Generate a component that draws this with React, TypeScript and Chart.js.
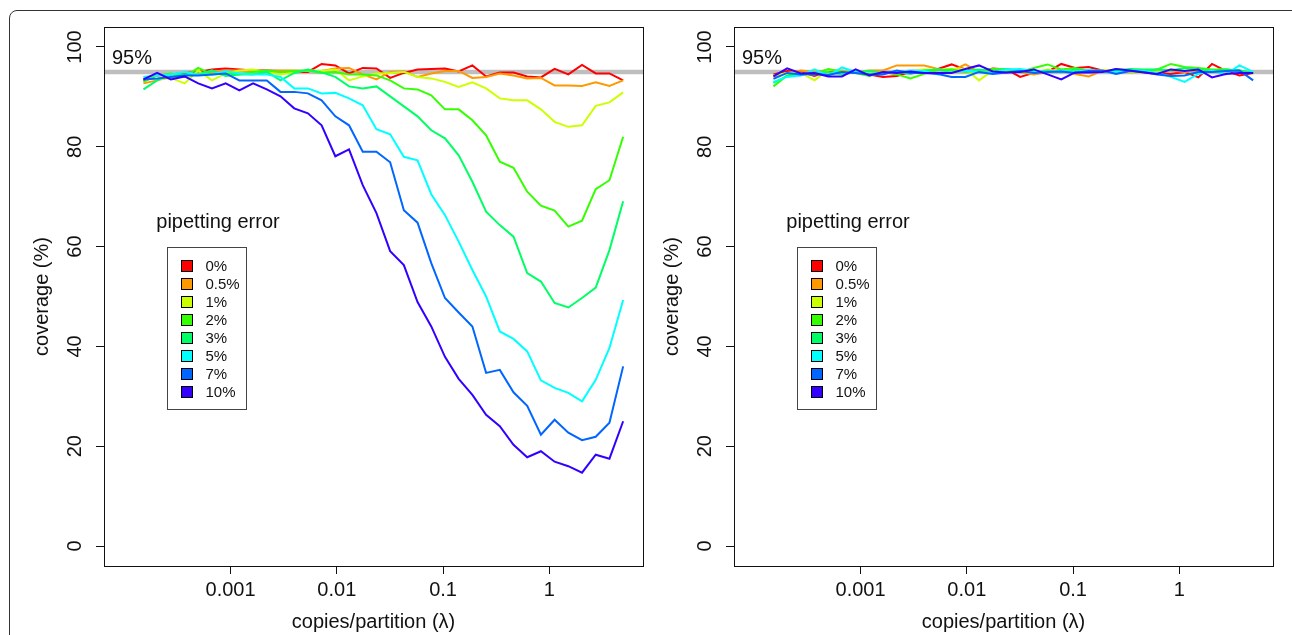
import React, { useEffect, useRef } from "react";
import { Chart, registerables } from "chart.js";
Chart.register(...registerables);

const FONT = '"Liberation Sans", Arial, Helvetica, sans-serif';
const TEXT = "#111";

// copies/partition (lambda)
const lambda = [
  0.0001514, 0.0002038, 0.0002742, 0.0003691, 0.0004967, 0.0006685, 0.0008997, 0.0012109,
  0.0016298, 0.0021935, 0.002952, 0.003973, 0.005348, 0.007197, 0.009685, 0.013035,
  0.017544, 0.023612, 0.03178, 0.04277, 0.05756, 0.07747, 0.10426, 0.14033,
  0.18887, 0.25419, 0.3421, 0.4604, 0.6197, 0.8339, 1.1223, 1.5105,
  2.033, 2.736, 3.683, 4.956,
];

const seriesLabels = ["0%", "0.5%", "1%", "2%", "3%", "5%", "7%", "10%"];
const seriesColors = ["#FF0000", "#FF9900", "#CCFF00", "#33FF00", "#00FF66", "#00FFFF", "#0066FF", "#3300FF"];

// Left panel coverage (%)
const left0 = [93.3, 94.3, 94.5, 94.8, 95.0, 95.5, 95.7, 95.5, 95.3, 95.3, 95.2, 95.0, 95.0, 96.6, 96.3, 94.7, 95.8, 95.7, 93.8, 94.8, 95.5, 95.6, 95.7, 95.1, 96.3, 94.1, 94.9, 94.9, 94.1, 93.9, 95.6, 94.5, 96.4, 94.7, 94.7, 93.3];
const left05 = [92.7, 93.3, 94.0, 94.3, 94.8, 95.0, 95.3, 95.3, 95.2, 95.2, 95.3, 95.3, 95.2, 95.2, 95.7, 95.8, 94.5, 93.5, 95.0, 95.1, 94.0, 94.7, 95.2, 95.2, 93.8, 94.0, 94.7, 94.3, 93.7, 93.8, 92.3, 92.3, 92.2, 92.9, 92.2, 93.3];
const left1 = [94.0, 93.5, 93.8, 92.7, 95.3, 93.3, 94.7, 95.3, 95.5, 95.0, 94.5, 95.0, 95.3, 95.2, 95.5, 93.3, 94.1, 94.7, 94.8, 95.0, 94.0, 93.7, 93.0, 92.0, 92.9, 91.7, 89.7, 89.3, 89.3, 87.5, 85.0, 84.0, 84.3, 88.2, 88.9, 90.9];
const left2 = [93.0, 94.3, 94.7, 94.0, 95.8, 94.5, 94.7, 94.5, 95.0, 95.3, 95.0, 95.2, 95.3, 94.8, 95.0, 94.5, 94.5, 94.3, 93.3, 91.7, 91.5, 90.3, 87.5, 87.5, 85.3, 82.3, 77.0, 75.8, 71.0, 68.2, 67.2, 64.0, 65.2, 71.5, 73.3, 82.0];
const left3 = [91.5, 93.3, 94.5, 94.5, 94.5, 95.3, 94.2, 94.5, 94.5, 95.0, 93.3, 94.8, 95.5, 94.9, 94.0, 92.1, 91.7, 92.1, 90.1, 88.1, 86.1, 83.3, 81.7, 78.3, 73.0, 67.0, 64.3, 62.0, 54.7, 53.0, 48.7, 47.8, 49.7, 51.8, 59.3, 69.1];
const left5 = [94.0, 94.3, 94.5, 95.0, 94.5, 94.5, 95.2, 94.7, 94.5, 94.5, 94.0, 91.7, 91.7, 90.7, 90.8, 89.7, 88.3, 83.5, 82.5, 78.0, 77.3, 70.5, 66.3, 61.0, 55.3, 50.0, 43.0, 41.5, 39.0, 33.2, 31.7, 30.7, 29.0, 33.3, 39.7, 49.3];
const left7 = [93.5, 93.7, 94.0, 94.3, 94.3, 94.5, 94.7, 93.3, 93.3, 93.3, 91.0, 91.0, 90.7, 89.3, 86.1, 84.3, 79.0, 79.0, 76.9, 67.3, 64.8, 56.7, 49.7, 46.8, 44.0, 34.7, 35.3, 30.8, 28.1, 22.3, 25.3, 22.7, 21.2, 21.9, 24.7, 36.0];
const left10 = [93.5, 94.8, 93.5, 94.1, 92.7, 91.7, 92.7, 91.3, 92.7, 91.5, 90.1, 87.7, 86.7, 84.3, 78.1, 79.5, 72.3, 66.7, 59.1, 56.3, 48.9, 44.0, 37.9, 33.5, 30.3, 26.3, 24.0, 20.3, 17.8, 19.0, 16.9, 16.0, 14.7, 18.3, 17.5, 25.0];

// Right panel coverage (%)
const right0 = [94.5, 95.2, 95.0, 94.2, 95.2, 95.0, 95.0, 94.5, 94.0, 94.2, 95.0, 95.0, 95.6, 96.5, 95.5, 95.0, 95.7, 95.5, 94.0, 94.8, 95.0, 96.6, 95.8, 96.0, 95.3, 95.0, 95.0, 95.2, 94.8, 94.6, 95.0, 93.9, 96.6, 95.2, 94.3, 94.8];
const right05 = [94.0, 94.8, 95.3, 95.0, 95.4, 95.3, 95.0, 95.3, 95.3, 96.3, 96.3, 96.3, 95.6, 95.2, 96.5, 95.0, 95.2, 95.4, 95.0, 94.5, 95.0, 95.5, 94.6, 94.1, 95.2, 95.3, 95.2, 95.3, 95.5, 95.3, 95.0, 95.2, 95.0, 95.4, 95.3, 94.8];
const right1 = [94.3, 94.8, 94.8, 93.3, 95.5, 95.0, 95.2, 95.0, 94.8, 95.0, 95.2, 95.5, 95.4, 95.6, 95.7, 93.3, 95.3, 95.2, 95.0, 94.9, 95.5, 95.0, 95.3, 95.0, 95.4, 95.2, 95.0, 94.8, 95.3, 95.5, 95.2, 95.5, 95.3, 95.6, 95.0, 94.7];
const right2 = [92.1, 94.3, 94.7, 94.5, 95.6, 95.0, 94.8, 94.2, 95.0, 94.5, 93.7, 94.6, 95.4, 95.5, 95.0, 95.3, 95.6, 95.6, 95.0, 95.8, 96.5, 95.5, 95.8, 95.2, 95.0, 95.6, 95.3, 95.0, 95.5, 96.6, 96.0, 95.8, 95.5, 95.5, 95.2, 94.8];
const right3 = [92.8, 94.2, 94.5, 94.8, 95.0, 94.5, 95.0, 95.2, 94.8, 95.0, 94.6, 95.3, 95.5, 95.0, 95.2, 95.5, 95.2, 95.6, 95.3, 95.0, 95.3, 95.0, 95.5, 95.2, 95.0, 95.3, 95.6, 95.5, 95.5, 95.3, 95.8, 95.5, 95.2, 95.5, 95.3, 94.8];
const right5 = [93.0, 94.0, 94.3, 95.5, 94.2, 95.9, 95.0, 94.6, 94.8, 95.0, 95.3, 95.2, 94.5, 95.0, 95.3, 95.0, 94.8, 95.5, 95.6, 95.2, 95.0, 95.3, 95.0, 95.4, 95.2, 95.0, 95.3, 95.2, 94.8, 94.0, 93.0, 94.6, 95.3, 94.5, 96.3, 95.0];
const right7 = [93.6, 94.8, 94.5, 94.6, 94.4, 95.0, 94.8, 94.5, 94.5, 95.3, 94.8, 94.8, 94.6, 94.0, 94.0, 95.0, 94.6, 94.9, 95.2, 94.8, 95.0, 95.1, 94.8, 95.2, 95.3, 94.6, 95.2, 95.0, 94.5, 94.2, 94.3, 95.0, 95.0, 95.2, 95.3, 93.3];
const right10 = [94.1, 95.7, 94.7, 94.8, 94.1, 94.1, 95.5, 94.3, 95.0, 94.8, 95.1, 94.8, 94.8, 94.8, 95.6, 96.3, 95.1, 94.9, 95.0, 95.5, 94.5, 93.5, 94.9, 94.9, 95.0, 95.6, 95.3, 94.9, 94.6, 95.5, 95.2, 95.5, 93.9, 94.6, 94.8, 94.8];

const leftSeries = [left0, left05, left1, left2, left3, left5, left7, left10];
const rightSeries = [right0, right05, right1, right2, right3, right5, right7, right10];

const xTickValues = [0.001, 0.01, 0.1, 1];
const xTickLabels = ["0.001", "0.01", "0.1", "1"];
const yTickValues = [0, 20, 40, 60, 80, 100];
const xMin = 0.0000644;
const xMax = 7.62;
const yMin = -4;
const yMax = 104;
const targetCoverage = 95;
const targetLabel = "95%";
const legendTitle = "pipetting error";
const xTitle = "copies/partition (\u03bb)";
const yTitle = "coverage (%)";

const refLinePlugin = {
  id: "refLine",
  beforeDatasetsDraw(chart: any) {
    const { ctx, chartArea, scales } = chart;
    const y = scales.y.getPixelForValue(targetCoverage);
    ctx.save();
    ctx.beginPath();
    ctx.rect(chartArea.left, chartArea.top, chartArea.right - chartArea.left, chartArea.bottom - chartArea.top);
    ctx.clip();
    ctx.strokeStyle = "#BEBEBE";
    ctx.lineWidth = 4.5;
    ctx.beginPath();
    ctx.moveTo(chartArea.left, y);
    ctx.lineTo(chartArea.right, y);
    ctx.stroke();
    ctx.restore();
    ctx.save();
    ctx.fillStyle = TEXT;
    ctx.font = `20px ${FONT}`;
    ctx.textAlign = "left";
    ctx.textBaseline = "alphabetic";
    ctx.fillText(targetLabel, chartArea.left + 8, y - 8);
    ctx.restore();
  },
};

const boxPlugin = {
  id: "plotBox",
  afterDraw(chart: any) {
    const { ctx, chartArea } = chart;
    ctx.save();
    ctx.strokeStyle = "#111";
    ctx.lineWidth = 1;
    ctx.strokeRect(
      Math.round(chartArea.left) + 0.5,
      Math.round(chartArea.top) + 0.5,
      Math.round(chartArea.right - chartArea.left),
      Math.round(chartArea.bottom - chartArea.top)
    );
    ctx.restore();
  },
};

const legendPlugin = {
  id: "pipLegend",
  afterDraw(chart: any) {
    const { ctx, chartArea } = chart;
    const bx = Math.round(chartArea.left + 62.5) + 0.5;
    const by = Math.round(chartArea.top + 219.5) + 0.5;
    const bw = 79;
    const bh = 162;
    ctx.save();
    ctx.fillStyle = TEXT;
    ctx.font = `20px ${FONT}`;
    ctx.textAlign = "center";
    ctx.textBaseline = "middle";
    ctx.fillText(legendTitle, chartArea.left + 114, chartArea.top + 195);
    ctx.strokeStyle = "#444";
    ctx.lineWidth = 1;
    ctx.strokeRect(bx, by, bw, bh);
    chart.data.datasets.forEach((ds: any, k: number) => {
      const cy = by + 18.3 + 18 * k;
      const sx = Math.round(bx + 13.5) + 0.5;
      const sy = Math.round(cy - 5.5) + 0.5;
      ctx.fillStyle = ds.borderColor;
      ctx.fillRect(sx, sy, 11, 11);
      ctx.strokeStyle = "#000";
      ctx.strokeRect(sx, sy, 11, 11);
      ctx.fillStyle = TEXT;
      ctx.font = `15px ${FONT}`;
      ctx.textAlign = "left";
      ctx.textBaseline = "middle";
      ctx.fillText(ds.label, bx + 38, cy + 1);
    });
    ctx.restore();
  },
};

function buildConfig(series: number[][]): any {
  return {
    type: "line",
    data: {
      datasets: series.map((vals, k) => ({
        label: seriesLabels[k],
        data: lambda.map((x, i) => ({ x, y: vals[i] })),
        borderColor: seriesColors[k],
        backgroundColor: seriesColors[k],
        borderWidth: 2,
        pointRadius: 0,
        tension: 0,
        fill: false,
        order: series.length - 1 - k,
      })),
    },
    options: {
      responsive: false,
      animation: false,
      devicePixelRatio: 1,
      layout: { padding: { left: 0, right: 3, top: 27, bottom: 0 } },
      plugins: {
        legend: { display: false },
        tooltip: { enabled: false },
        title: { display: false },
      },
      scales: {
        x: {
          type: "logarithmic",
          min: xMin,
          max: xMax,
          bounds: "data",
          afterBuildTicks: (s: any) => {
            s.ticks = xTickValues.map((v) => ({ value: v }));
          },
          afterFit: (s: any) => {
            s.height = 69;
          },
          ticks: {
            callback: (_v: any, i: number) => xTickLabels[i],
            font: { family: FONT, size: 20 },
            color: TEXT,
            padding: 4,
            autoSkip: false,
            minRotation: 0,
            maxRotation: 0,
          },
          grid: { drawOnChartArea: false, drawTicks: true, tickLength: 8, color: "#111", lineWidth: 1 },
          border: { display: false },
          title: {
            display: true,
            text: xTitle,
            font: { family: FONT, size: 20 },
            color: TEXT,
            padding: { top: 0, bottom: 1 },
          },
        },
        y: {
          type: "linear",
          min: yMin,
          max: yMax,
          bounds: "data",
          afterBuildTicks: (s: any) => {
            s.ticks = yTickValues.map((v) => ({ value: v }));
          },
          afterFit: (s: any) => {
            s.width = 104;
          },
          ticks: {
            callback: (v: any) => String(v),
            font: { family: FONT, size: 20 },
            color: TEXT,
            padding: 4,
            minRotation: 90,
            maxRotation: 90,
            crossAlign: "center",
            autoSkip: false,
          },
          grid: { drawOnChartArea: false, drawTicks: true, tickLength: 8, color: "#111", lineWidth: 1 },
          border: { display: false },
          title: {
            display: true,
            text: yTitle,
            font: { family: FONT, size: 20 },
            color: TEXT,
            padding: { top: 30, bottom: 0 },
          },
        },
      },
    },
    plugins: [refLinePlugin, boxPlugin, legendPlugin],
  };
}

function Panel({ series, left }: { series: number[][]; left: number }) {
  const ref = useRef<HTMLCanvasElement | null>(null);
  useEffect(() => {
    if (!ref.current) return;
    const chart = new Chart(ref.current, buildConfig(series));
    return () => chart.destroy();
  }, [series]);
  return (
    <canvas
      ref={ref}
      width={646}
      height={635}
      style={{ position: "absolute", left, top: 0, width: 646, height: 635 }}
    />
  );
}

export default function App() {
  return (
    <div
      style={{
        position: "fixed",
        left: 0,
        top: 0,
        width: 1292,
        height: 635,
        overflow: "hidden",
        background: "#fff",
      }}
    >
      <div
        style={{
          position: "absolute",
          left: 9,
          top: 10,
          width: 1320,
          height: 700,
          border: "1px solid #333",
          borderTopLeftRadius: 8,
          boxSizing: "border-box",
        }}
      />
      <Panel series={leftSeries} left={0} />
      <Panel series={rightSeries} left={630} />
    </div>
  );
}
